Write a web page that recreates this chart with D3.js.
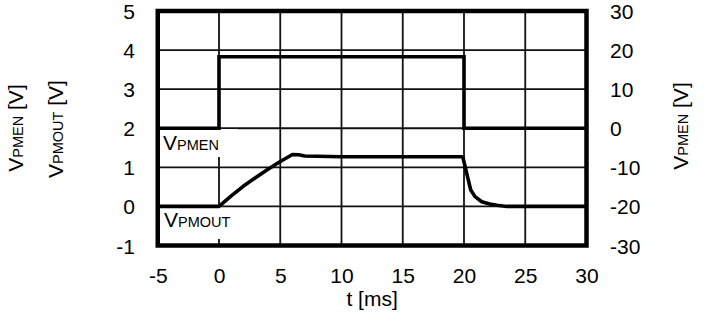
<!DOCTYPE html>
<html><head><meta charset="utf-8">
<script src="https://cdn.jsdelivr.net/npm/d3@7"></script>
<style>
html,body{margin:0;padding:0;background:#fff;}
svg{display:block;font-family:"Liberation Sans",Arial,sans-serif;}
</style></head>
<body>
<svg id="chart" width="712" height="322"></svg>
<script>
// ---- data ----
const xTicks = [-5, 0, 5, 10, 15, 20, 25, 30];
const leftTicks = [-1, 0, 1, 2, 3, 4, 5];
const rightTicks = [-30, -20, -10, 0, 10, 20, 30];

// VPMEN (right axis, V)
const pmenT = [-5, 0, 0, 20, 20, 30];
const pmenV = [0, 0, 18.3, 18.3, 0, 0];

// VPMOUT (left axis, V)
const pmoutT = [-5, 0, 1, 2, 3, 4, 5, 6, 6.5, 7, 10, 15, 19.9, 20.35, 20.55, 20.9, 21.45, 22.1, 22.7, 23.5, 30];
const pmoutV = [0, 0, 0.27, 0.52, 0.74, 0.95, 1.15, 1.33, 1.32, 1.29, 1.27, 1.27, 1.27, 0.68, 0.42, 0.25, 0.12, 0.06, 0.03, 0, 0];

// ---- layout ----
const L = 157.75, R = 586.5, T = 11, B = 245.5;
const svg = d3.select("#chart");
const x = d3.scaleLinear().domain([-5, 30]).range([L, R]);
const yL = d3.scaleLinear().domain([-1, 5]).range([B, T]);
const yR = d3.scaleLinear().domain([-30, 30]).range([B, T]);

const FS = 21, SUB = 14.5;
const fmt = d => String(d);

// grid
const g = svg.append("g");
g.selectAll("line.vx").data(xTicks.slice(1, -1)).join("line")
  .attr("x1", d => x(d)).attr("x2", d => x(d)).attr("y1", T).attr("y2", B)
  .attr("stroke", "#111").attr("stroke-width", 1.8);
g.selectAll("line.hy").data(leftTicks.slice(1, -1)).join("line")
  .attr("x1", L).attr("x2", R).attr("y1", d => yL(d)).attr("y2", d => yL(d))
  .attr("stroke", "#111").attr("stroke-width", 1.8);

// label boxes (white backgrounds)
svg.append("rect").attr("x", L + 2).attr("y", 129).attr("width", 78).attr("height", 28).attr("fill", "#fff");
svg.append("rect").attr("x", L + 2).attr("y", 208).attr("width", 88).attr("height", 31).attr("fill", "#fff");

// data lines
const lineR = d3.line().x(d => x(d[0])).y(d => yR(d[1]));
const lineL = d3.line().x(d => x(d[0])).y(d => yL(d[1]));
svg.append("path").attr("d", lineR(pmenT.map((t, i) => [t, pmenV[i]])))
  .attr("fill", "none").attr("stroke", "#000").attr("stroke-width", 3.6).attr("stroke-linejoin", "miter");
svg.append("path").attr("d", lineL(pmoutT.map((t, i) => [t, pmoutV[i]])))
  .attr("fill", "none").attr("stroke", "#000").attr("stroke-width", 3.6).attr("stroke-linejoin", "round");

// frame
svg.append("rect").attr("x", L).attr("y", T).attr("width", R - L).attr("height", B - T)
  .attr("fill", "none").attr("stroke", "#000").attr("stroke-width", 4.5);

// axes (labels only)
const axB = d3.axisBottom(x).tickValues(xTicks).tickFormat(fmt).tickSize(0).tickPadding(0);
const gB = svg.append("g").attr("transform", `translate(0,${B})`).call(axB);
const axLft = d3.axisLeft(yL).tickValues(leftTicks).tickFormat(fmt).tickSize(0).tickPadding(0);
const gL = svg.append("g").attr("transform", `translate(${L},0)`).call(axLft);
const axRt = d3.axisRight(yR).tickValues(rightTicks).tickFormat(fmt).tickSize(0).tickPadding(0);
const gR = svg.append("g").attr("transform", `translate(${R},0)`).call(axRt);
[gB, gL, gR].forEach(a => {
  a.select(".domain").remove();
  a.selectAll("text").attr("font-size", FS).attr("font-family", "Liberation Sans, Arial, sans-serif").attr("fill", "#000");
});
gB.selectAll("text").attr("dy", null).attr("y", 283 - B);
gL.selectAll("text").attr("x", 135 - L).attr("dy", "0.36em");
gR.selectAll("text").attr("x", 610 - R).attr("dy", "0.36em");

// text helper with small-caps subscript
function vlabel(sel, sub, tail) {
  sel.append("tspan").attr("font-size", FS).text("V");
  sel.append("tspan").attr("font-size", SUB).text(sub);
  if (tail) sel.append("tspan").attr("font-size", FS).text(tail);
  return sel;
}
vlabel(svg.append("text").attr("x", 163).attr("y", 150), "PMEN");
vlabel(svg.append("text").attr("x", 164).attr("y", 227), "PMOUT");

vlabel(svg.append("text").attr("transform", "translate(23,128) rotate(-90)").attr("text-anchor", "middle"), "PMEN", " [V]");
vlabel(svg.append("text").attr("transform", "translate(63,129) rotate(-90)").attr("text-anchor", "middle"), "PMOUT", " [V]");
vlabel(svg.append("text").attr("transform", "translate(688,126) rotate(-90)").attr("text-anchor", "middle"), "PMEN", " [V]");

svg.append("text").attr("x", x(12.5)).attr("y", 306).attr("text-anchor", "middle").attr("font-size", FS).text("t [ms]");
</script>
</body></html>
